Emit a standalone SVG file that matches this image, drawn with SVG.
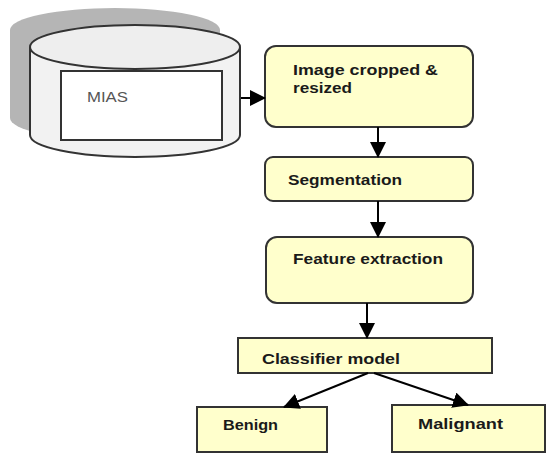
<svg xmlns="http://www.w3.org/2000/svg" width="546" height="453" viewBox="0 0 546 453">
<defs>
<marker id="ahb" markerWidth="16" markerHeight="16" refX="15" refY="8" orient="auto" markerUnits="userSpaceOnUse" viewBox="0 0 16 16">
<path d="M0,0 L16,8 L0,16 Z" fill="#000"/>
</marker>
</defs>
<style>
.box{fill:#ffffcc;stroke:#333;stroke-width:2}
.t{font-family:"Liberation Sans",Arial,sans-serif;font-size:15px;font-weight:bold;fill:#1a1a1a}
.tm{font-family:"Liberation Sans",Arial,sans-serif;font-size:15px;fill:#1a1a1a;font-weight:600}
.conn{stroke:#000;stroke-width:2;fill:none;marker-end:url(#ahb)}
</style>
<rect width="546" height="453" fill="#fff"/>
<g id="mias">
<path d="M10,30 A105,22 0 0 1 220,30 L220,118 A105,22 0 0 1 10,118 Z" fill="#b5b5b5"/>
<path d="M30,47 L30,135 A105,22 0 0 0 240,135 L240,47" fill="#f2f2f2" stroke="#333" stroke-width="2"/>
<ellipse cx="135" cy="47" rx="105" ry="22" fill="#eeeeee" stroke="#333" stroke-width="2"/>
<rect x="61" y="71" width="161" height="69" fill="#fff" stroke="#333" stroke-width="2"/>
<text x="87" y="102" textLength="41" lengthAdjust="spacingAndGlyphs" font-family="Liberation Sans,Arial,sans-serif" font-size="15" fill="#555">MIAS</text>
</g>
<g id="crop">
<rect class="box" x="265" y="46" width="208" height="81" rx="11"/>
<text class="t" x="293" y="75" textLength="145" lengthAdjust="spacingAndGlyphs">Image cropped &amp;</text>
<text class="t" x="293" y="93" textLength="59" lengthAdjust="spacingAndGlyphs">resized</text>
</g>
<g id="seg">
<rect class="box" x="265" y="157" width="208" height="44" rx="8"/>
<text class="tm" x="288" y="185" textLength="114" lengthAdjust="spacingAndGlyphs">Segmentation</text>
</g>
<g id="feat">
<rect class="box" x="266" y="237" width="207" height="66" rx="11"/>
<text class="tm" x="293" y="264" textLength="150" lengthAdjust="spacingAndGlyphs">Feature extraction</text>
</g>
<g id="cls">
<rect class="box" x="238" y="338" width="254" height="35"/>
<text class="t" x="262" y="364" textLength="138" lengthAdjust="spacingAndGlyphs">Classifier model</text>
</g>
<g id="benign">
<rect class="box" x="197" y="407" width="130" height="45"/>
<text class="t" x="223" y="430" textLength="55" lengthAdjust="spacingAndGlyphs">Benign</text>
</g>
<g id="malignant">
<rect class="box" x="392" y="405" width="153" height="47"/>
<text class="t" x="418" y="429" textLength="85" lengthAdjust="spacingAndGlyphs">Malignant</text>
</g>
<g id="connectors">
<line class="conn" x1="241" y1="98" x2="265" y2="98"/>
<line class="conn" x1="378" y1="127" x2="378" y2="157"/>
<line class="conn" x1="378" y1="201" x2="378" y2="237"/>
<line class="conn" x1="367" y1="303" x2="367" y2="338"/>
<line class="conn" x1="368" y1="373" x2="284" y2="407"/>
<line class="conn" x1="374" y1="373" x2="468" y2="405"/>
</g>
</svg>
